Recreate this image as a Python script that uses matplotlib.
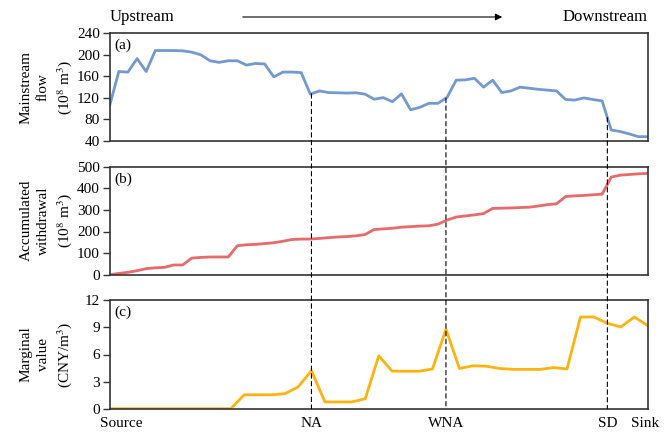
import numpy as np
import matplotlib
matplotlib.use('Agg')
import matplotlib.pyplot as plt
from matplotlib.patches import ConnectionPatch, FancyArrowPatch
from matplotlib.transforms import ScaledTranslation

plt.rcParams['font.family'] = ['Liberation Serif', 'DejaVu Serif']
plt.rcParams['mathtext.fontset'] = 'stix'

# data ========================================================================
# (a) mainstream flow, 10^8 m3 (60 nodes)
flow = [106, 169, 168, 193, 169, 208, 208, 208, 207.5, 205,
        200, 189, 186, 189, 189, 181, 184, 183, 159, 168,
        168, 167, 127, 133, 130, 129.5, 129, 129.5, 127, 117.5,
        120.5, 113, 127.5, 98, 102.5, 110, 110, 121, 153, 153.5,
        156.5, 140, 153, 130, 133, 140, 138, 136, 134.5, 133,
        117, 116, 120, 117, 114.5, 60.5, 57.5, 53, 48, 48]

# (b) accumulated withdrawal, 10^8 m3 (60 nodes)
withdrawal = [0, 6, 11, 18.5, 28, 32, 34, 45, 45, 77,
              80, 82, 82, 82, 134, 138.5, 140.5, 144, 148, 155,
              163, 165, 165, 168, 171.5, 174.5, 176.5, 180, 186, 209,
              212, 215, 220, 222.5, 225, 226.5, 234, 253, 267, 272,
              277, 283, 307, 308, 309, 311, 312.5, 318, 324.5, 328,
              362, 365, 367, 370, 373, 452, 461, 464, 467, 469]

# (c) marginal value, CNY/m3 (41 nodes)
marginal = [0, 0, 0, 0, 0, 0, 0, 0, 0, 0,
            1.54, 1.54, 1.54, 1.65, 2.4, 4.2, 0.75, 0.75, 0.75, 1.1,
            5.85, 4.15, 4.15, 4.15, 4.4, 8.8, 4.45, 4.75, 4.7, 4.45,
            4.35, 4.35, 4.35, 4.55, 4.4, 10.15, 10.15, 9.45, 9.05, 10.15,
            9.2]

site_names = ['Source', 'NA', 'WNA', 'SD', 'Sink']
site_nodes = [0, 15, 25, 37, 40]

n_end = len(marginal) - 1
x_flow = np.linspace(0, n_end, len(flow))
x_wd = np.linspace(0, n_end, len(withdrawal))
x_mv = np.arange(len(marginal))

# plotagem ====================================================================
fig = plt.figure(figsize=(6.69, 4.32), dpi=100)
W, H = 669, 432
left, width = 109.7 / W, 538 / W
ax1 = fig.add_axes([left, 1 - 141 / H, width, 107.7 / H])
ax2 = fig.add_axes([left, 1 - 274.7 / H, width, 108 / H])
ax3 = fig.add_axes([left, 1 - 408.7 / H, width, 108.4 / H])

ax1.plot(x_flow, flow, color='#7399D1', lw=2)
ax2.plot(x_wd, withdrawal, color='#E96A6A', lw=2)
ax3.plot(x_mv, marginal, color='#FFB30F', lw=2)

ax1.set_ylim(40, 240)
ax1.set_yticks(np.arange(40, 241, 40))
ax2.set_ylim(0, 500)
ax2.set_yticks(np.arange(0, 501, 100))
ax3.set_ylim(0, 12)
ax3.set_yticks(np.arange(0, 13, 3))

ylabels = ['Mainstream\nflow\n(10$^8$ m$^3$)',
           'Accumulated\nwithdrawal\n(10$^8$ m$^3$)',
           'Marginal\nvalue\n(CNY/m$^3$)']
for ax, lab, tag in zip([ax1, ax2, ax3], ylabels, ['(a)', '(b)', '(c)']):
    ax.set_xlim(0, n_end)
    ax.set_ylabel(lab, fontsize=11, va='center', linespacing=1.4)
    ax.yaxis.set_label_coords(-0.117, 0.5)
    ax.tick_params(axis='y', direction='out', length=5, width=1,
                   labelsize=11, pad=2, color='#333333')
    for s in ax.spines.values():
        s.set_color('#333333')
        s.set_linewidth(1.2)
    ax.text(0.008, 0.95, tag, transform=ax.transAxes, va='top', fontsize=11)

for ax in [ax1, ax2]:
    ax.set_xticks([])

ax3.set_xticks(site_nodes)
ax3.set_xticklabels(site_names)
ax3.tick_params(axis='x', length=0, labelsize=11, pad=6)
# Source e Sink um pouco deslocados, como no original
tl = ax3.get_xticklabels()
tl[0].set_transform(tl[0].get_transform() + ScaledTranslation(12 / 100, 0, fig.dpi_scale_trans))
tl[-1].set_transform(tl[-1].get_transform() + ScaledTranslation(-3 / 100, 0, fig.dpi_scale_trans))

# linhas tracejadas
for xn in site_nodes[1:4]:
    con = ConnectionPatch(xyA=(xn, np.interp(xn, x_flow, flow)), coordsA=ax1.transData,
                          xyB=(xn, 0), coordsB=ax3.transData,
                          color='black', lw=0.8, linestyle=(0, (4, 3)))
    fig.add_artist(con)

# cabeçalho
fig.text(left, 1 - 17 / H, 'Upstream', fontsize=12, va='center', ha='left')
fig.text(left + width, 1 - 17 / H, 'Downstream', fontsize=12, va='center', ha='right')
fig.add_artist(FancyArrowPatch(
    (240 / W, 1 - 17 / H), (505 / W, 1 - 17 / H), transform=fig.transFigure,
    arrowstyle='-|>', mutation_scale=10, color='black', lw=0.8))

fig.savefig('out.png', dpi=100)
